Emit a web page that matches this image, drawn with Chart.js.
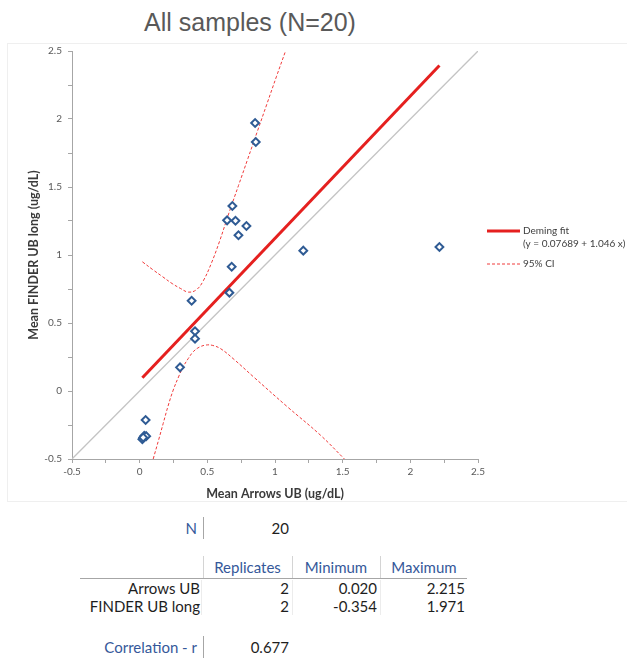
<!DOCTYPE html>
<html>
<head>
<meta charset="utf-8">
<script src="https://cdn.jsdelivr.net/npm/chart.js@4.4.1/dist/chart.umd.min.js"></script>
<style>
  body { margin:0; background:#fff; width:627px; height:661px; position:relative; overflow:hidden; font-family:Lato, "Open Sans", sans-serif; }
  #frame { position:absolute; left:7px; top:43px; width:640px; height:459px; border:1px solid #efefef; box-sizing:border-box; }
  #title { position:absolute; left:0; width:500px; top:7px; line-height:30px; text-align:center; font-family:"Liberation Sans", Arial, sans-serif; font-size:25px; color:#595959; white-space:nowrap; }
  #chart { position:absolute; left:0; top:0; }
  .t { position:absolute; font-size:15px; line-height:18px; white-space:nowrap; }
  .lab { color:#35589a; }
  .val { color:#1e1e1e; }
  .r { text-align:right; }
  .c { text-align:center; }
  .vbar { position:absolute; width:1px; background:#a6a6a6; }
  .hbar { position:absolute; height:1px; background:#a6a6a6; }
</style>
</head>
<body>
<div id="frame"></div>
<div id="title"></div>
<canvas id="chart" width="627" height="505"></canvas>
<div id="table"></div>
<script>
// ---------------- data ----------------
const TITLE = 'All samples (N=20)';
const X_TITLE = 'Mean Arrows UB (ug/dL)';
const Y_TITLE = 'Mean FINDER UB long (ug/dL)';

const X_VALUES = [0.853, 0.858, 0.685, 0.646, 0.708, 0.789, 0.730, 1.209, 2.215, 0.680,
                  0.663, 0.384, 0.409, 0.409, 0.298, 0.044, 0.020, 0.034, 0.048, 0.026];
const Y_VALUES = [1.971, 1.831, 1.360, 1.255, 1.252, 1.213, 1.145, 1.032, 1.059, 0.914,
                  0.723, 0.664, 0.439, 0.385, 0.174, -0.213, -0.354, -0.330, -0.332, -0.342];

const FIT_X = [0.020, 2.215];
const FIT_Y = [0.098, 2.394];

const IDENTITY_X = [-0.5, 2.5];
const IDENTITY_Y = [-0.5, 2.5];

const CI_UPPER_X = [0.02, 0.10, 0.17, 0.24, 0.30, 0.36, 0.42, 0.47, 0.53, 0.59, 0.66, 0.73, 0.80, 0.87, 0.94, 1.01, 1.078];
const CI_UPPER_Y = [0.95, 0.89, 0.84, 0.79, 0.755, 0.727, 0.745, 0.81, 0.94, 1.10, 1.31, 1.51, 1.71, 1.91, 2.11, 2.31, 2.50];

const CI_LOWER_X = [0.10, 0.14, 0.174, 0.21, 0.248, 0.29, 0.322, 0.36, 0.396, 0.44, 0.49, 0.54, 0.60, 0.70, 0.84, 1.09, 1.335, 1.513];
const CI_LOWER_Y = [-0.5, -0.36, -0.238, -0.11, 0.007, 0.11, 0.179, 0.24, 0.289, 0.322, 0.338, 0.335, 0.31, 0.23, 0.105, -0.115, -0.324, -0.5];

const AXIS_TICKS = [-0.5, -0.25, 0, 0.25, 0.5, 0.75, 1, 1.25, 1.5, 1.75, 2, 2.25, 2.5];
const AXIS_TICK_LABELS = ['-0.5', '', '0', '', '0.5', '', '1', '', '1.5', '', '2', '', '2.5'];

const LEGEND_FIT = ['Deming fit', '(y = 0.07689 + 1.046 x)'];
const LEGEND_CI = ['95% CI'];

const STAT_N_LABEL = 'N';
const STAT_N = '20';
const TABLE_HEADERS = ['Replicates', 'Minimum', 'Maximum'];
const TABLE_ROWS = ['Arrows UB', 'FINDER UB long'];
const REPLICATES = ['2', '2'];
const MINIMUM = ['0.020', '-0.354'];
const MAXIMUM = ['2.215', '1.971'];
const CORR_LABEL = 'Correlation - r';
const CORR_R = '0.677';

// ---------------- styles ----------------
const FIT_COLOR = '#e5201f';
const CI_COLOR = '#f03a3a';
const POINT_COLOR = '#2f5b94';
const IDENTITY_COLOR = '#c4c4c4';
const AXIS_COLOR = '#a6a6a6';

const zip = (xs, ys) => xs.map((x, i) => ({ x, y: ys[i] }));

document.getElementById('title').textContent = TITLE;

function axis(title, isY) {
  return {
    type: 'linear', min: -0.5, max: 2.5,
    afterBuildTicks: s => { s.ticks = AXIS_TICKS.map(v => ({ value: v })); },
    afterFit: s => { if (isY) s.width = 50; else s.height = 46; },
    ticks: {
      autoSkip: false, maxRotation: 0, padding: isY ? 6 : 3,
      color: '#595959', font: { family: 'Lato', size: 10 },
      callback: v => AXIS_TICK_LABELS[AXIS_TICKS.findIndex(t => Math.abs(t - v) < 1e-9)]
    },
    grid: { drawOnChartArea: false, drawTicks: true, tickLength: 4, color: AXIS_COLOR, tickColor: AXIS_COLOR },
    border: { color: AXIS_COLOR, width: 1 },
    title: { display: true, text: title, color: '#3a3a3a', font: { family: 'Lato', size: 12.5, weight: 'bold' }, padding: { top: 4, bottom: 4 } }
  };
}

const legendPlugin = {
  id: 'customLegend',
  afterDraw(chart) {
    const ctx = chart.ctx;
    const x0 = chart.chartArea.right + 9;
    const x1 = x0 + 33;
    const tx = x1 + 3;
    const y0 = 231;
    ctx.save();
    ctx.strokeStyle = FIT_COLOR; ctx.lineWidth = 3;
    ctx.beginPath(); ctx.moveTo(x0, y0); ctx.lineTo(x1, y0); ctx.stroke();
    ctx.strokeStyle = CI_COLOR; ctx.lineWidth = 1; ctx.setLineDash([3, 2]);
    ctx.beginPath(); ctx.moveTo(x0, y0 + 33); ctx.lineTo(x1, y0 + 33); ctx.stroke();
    ctx.setLineDash([]);
    ctx.fillStyle = '#404040';
    ctx.font = '10px Lato';
    ctx.textBaseline = 'middle';
    ctx.fillText(LEGEND_FIT[0], tx, y0);
    ctx.fillText(LEGEND_FIT[1], tx, y0 + 13);
    ctx.fillText(LEGEND_CI[0], tx, y0 + 33);
    ctx.restore();
  }
};

new Chart(document.getElementById('chart'), {
  type: 'scatter',
  data: {
    datasets: [
      { label: 'Samples', data: zip(X_VALUES, Y_VALUES), order: 0,
        pointStyle: 'rectRot', pointRadius: 3.9, pointHoverRadius: 3.9, pointBorderWidth: 2,
        borderColor: POINT_COLOR, backgroundColor: '#ffffff', showLine: false },
      { label: 'Deming fit', data: zip(FIT_X, FIT_Y), order: 1, showLine: true,
        borderColor: FIT_COLOR, borderWidth: 3, pointRadius: 0, borderCapStyle: 'butt' },
      { label: '95% CI upper', data: zip(CI_UPPER_X, CI_UPPER_Y), order: 2, showLine: true,
        borderColor: CI_COLOR, borderWidth: 1, borderDash: [3, 2], pointRadius: 0, tension: 0.4 },
      { label: '95% CI lower', data: zip(CI_LOWER_X, CI_LOWER_Y), order: 2, showLine: true,
        borderColor: CI_COLOR, borderWidth: 1, borderDash: [3, 2], pointRadius: 0, tension: 0.4 },
      { label: 'Identity', data: zip(IDENTITY_X, IDENTITY_Y), order: 3, showLine: true,
        borderColor: IDENTITY_COLOR, borderWidth: 1.3, pointRadius: 0 }
    ]
  },
  options: {
    responsive: false, animation: false, devicePixelRatio: 1,
    layout: { padding: { left: 22, top: 51, right: 149, bottom: 0 } },
    scales: { x: axis(X_TITLE, false), y: axis(Y_TITLE, true) },
    plugins: { legend: { display: false }, tooltip: { enabled: false }, title: { display: false } }
  },
  plugins: [legendPlugin]
});

// ---------------- table ----------------
const table = document.getElementById('table');
function txt(text, cls, left, width, cy, align) {
  const d = document.createElement('div');
  d.className = 't ' + cls + ' ' + align;
  d.style.left = left + 'px'; d.style.width = width + 'px'; d.style.top = (cy - 9) + 'px';
  d.textContent = text;
  table.appendChild(d);
}
function vbar(x, y1, y2, color) {
  const d = document.createElement('div');
  d.className = 'vbar'; d.style.left = x + 'px'; d.style.top = y1 + 'px'; d.style.height = (y2 - y1) + 'px';
  if (color) d.style.background = color;
  table.appendChild(d);
}
function hbar(x1, x2, y) {
  const d = document.createElement('div');
  d.className = 'hbar'; d.style.left = x1 + 'px'; d.style.top = y + 'px'; d.style.width = (x2 - x1) + 'px';
  table.appendChild(d);
}
const COL_LABEL_RIGHT = 197, COL_BAR = [203, 292, 380], COL_END = 468;
// N row
txt(STAT_N_LABEL, 'lab', 0, COL_LABEL_RIGHT, 528, 'r');
vbar(COL_BAR[0], 517, 539);
txt(STAT_N, 'val', COL_BAR[0], 86, 528, 'r');
// header
const cellBounds = [[COL_BAR[0], COL_BAR[1]], [COL_BAR[1], COL_BAR[2]], [COL_BAR[2], COL_END]];
TABLE_HEADERS.forEach((h, i) => txt(h, 'lab', cellBounds[i][0], cellBounds[i][1] - cellBounds[i][0], 567, 'c'));
COL_BAR.forEach(x => vbar(x, 556, 578, '#d4d4d4'));
hbar(80, 467, 578);
// rows
const ROW_Y = [588, 606];
TABLE_ROWS.forEach((name, i) => {
  txt(name, 'val', 0, 200, ROW_Y[i], 'r');
  txt(REPLICATES[i], 'val', COL_BAR[0], 86, ROW_Y[i], 'r');
  txt(MINIMUM[i], 'val', COL_BAR[1], 85, ROW_Y[i], 'r');
  txt(MAXIMUM[i], 'val', COL_BAR[2], 85, ROW_Y[i], 'r');
});
COL_BAR.forEach(x => vbar(x - (x === COL_BAR[0] ? 2 : 0), 580, 615, '#ececec'));
// correlation
txt(CORR_LABEL, 'lab', 0, COL_LABEL_RIGHT, 647, 'r');
vbar(COL_BAR[0], 636, 658);
txt(CORR_R, 'val', COL_BAR[0], 86, 647, 'r');
</script>
</body>
</html>
